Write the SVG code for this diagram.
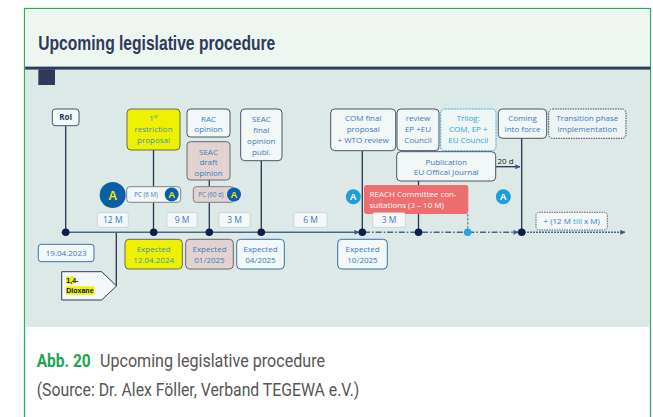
<svg xmlns="http://www.w3.org/2000/svg" width="653" height="417" viewBox="0 0 653 417">
  <defs>
    <marker id="arr" viewBox="0 0 6 6" refX="5.5" refY="3" markerWidth="5" markerHeight="5" orient="auto" markerUnits="userSpaceOnUse">
      <path d="M0,0 L6,3 L0,6 z" fill="#3b5880"/>
    </marker>
    <style>
      .lbl { font-family: "Open Sans", "Liberation Sans", sans-serif; font-size: 8px; fill: #3a7cc0; text-anchor: middle; }
      .durt { font-family: "Open Sans", "Liberation Sans", sans-serif; font-size: 8.5px; fill: #3a7cc0; text-anchor: middle; }
      .sm { font-family: "Open Sans", "Liberation Sans", sans-serif; font-size: 6.2px; fill: #3a7cc0; text-anchor: middle; }
      .box { fill: #f2f7f7; stroke: #4b5465; stroke-width: 1; }
      .dur { fill: #f4f8f8; stroke: #c7d0d0; stroke-width: 0.8; }
      .yel { fill: #edf100; stroke: #6a6a55; stroke-width: 1; }
      .pink { fill: #e3d3d0; stroke: #6b6670; stroke-width: 1; }
      .bluebox { fill: #f2f7f7; stroke: #3b70a8; stroke-width: 1; }
      .conn { stroke: #2a3450; stroke-width: 1.3; fill: none; }
      .dot { fill: #0b1f4d; }
      .aDark { fill: #0b5ea8; }
      .aLight { fill: #1e9edd; }
      .aTxtY { font-family: "Liberation Sans", sans-serif; font-weight: bold; fill: #f2e600; text-anchor: middle; }
      .aTxtW { font-family: "Liberation Sans", sans-serif; font-weight: bold; fill: #ffffff; text-anchor: middle; }
    </style>
  </defs>

  <!-- frame -->
  <rect x="24.5" y="8.5" width="626" height="420" fill="#ffffff" stroke="#22b35a" stroke-width="1.3"/>
  <rect x="25.2" y="9.2" width="624.6" height="57.5" fill="#eef6f2"/>
  <rect x="25.2" y="69.5" width="624.6" height="257.5" fill="#dce9e6"/>
  <rect x="25.2" y="66.6" width="625.3" height="3" fill="#2e3a5b"/>
  <rect x="38.3" y="69.3" width="16.7" height="15.7" fill="#2e3a5b"/>
  <text x="38.3" y="50" font-family="Liberation Sans, Arial, sans-serif" font-weight="bold" font-size="20.5" fill="#2e3a5b" textLength="237" lengthAdjust="spacingAndGlyphs">Upcoming legislative procedure</text>

  <!-- connectors -->
  <g id="connectors">
    <line class="conn" x1="65.7" y1="125.7" x2="65.7" y2="232.3"/>
    <line class="conn" x1="153.5" y1="150" x2="153.5" y2="232.3"/>
    <line class="conn" x1="209.3" y1="180" x2="209.3" y2="232.3"/>
    <line class="conn" x1="261.3" y1="160.7" x2="261.3" y2="232.3"/>
    <line class="conn" x1="362.3" y1="150.7" x2="362.3" y2="232.3"/>
    <line class="conn" x1="418.5" y1="150.7" x2="418.5" y2="232.3"/>
    <line class="conn" x1="521.7" y1="138.3" x2="521.7" y2="232.3"/>
    <line class="conn" x1="116.3" y1="232.3" x2="116.3" y2="286"/>
    <line x1="467.7" y1="214" x2="467.7" y2="232" stroke="#7a8a99" stroke-width="1.3" stroke-dasharray="2.5 1.5"/>
    <line class="conn" x1="495.7" y1="166.7" x2="520" y2="166.7" marker-end="url(#arr)"/>
    <!-- timeline -->
    <line x1="61.7" y1="232.3" x2="359" y2="232.3" stroke="#4a6688" stroke-width="1.6" marker-end="url(#arr)"/>
    <line x1="364" y1="232.3" x2="518" y2="232.3" stroke="#4a6688" stroke-width="1.6" stroke-dasharray="6 2 1.6 2" marker-end="url(#arr)"/>
    <line x1="524" y1="232.3" x2="625" y2="232.3" stroke="#4a6688" stroke-width="1.6" stroke-dasharray="2 1" marker-end="url(#arr)"/>
    <circle class="dot" cx="65.7" cy="232.3" r="3.8"/>
    <circle class="dot" cx="153.7" cy="232.3" r="3.8"/>
    <circle class="dot" cx="209.3" cy="232.3" r="3.8"/>
    <circle class="dot" cx="261.3" cy="232.3" r="3.8"/>
    <circle class="dot" cx="362.3" cy="232.3" r="3.8"/>
    <circle class="dot" cx="418.5" cy="232.3" r="3.8"/>
    <circle cx="467.7" cy="232.3" r="3.8" fill="#22a8e0"/>
    <circle class="dot" cx="521.7" cy="232.3" r="3.8"/>
  </g>

  <!-- top row -->
  <g id="roi">
    <rect class="box" x="52.3" y="109" width="26.7" height="16.7" rx="3"/>
    <text class="lbl" x="65.7" y="120.2" font-weight="bold" style="fill:#2a3a5c">RoI</text>
  </g>
  <g id="restriction-proposal">
    <rect class="yel" x="127" y="109" width="53" height="41" rx="4"/>
    <text class="lbl" x="153.5" y="120.8" style="fill:#3a95b8">1<tspan font-size="4.8" dy="-2.7">st</tspan></text>
    <text class="lbl" x="153.5" y="132" style="fill:#3a95b8">restriction</text>
    <text class="lbl" x="153.5" y="143" style="fill:#3a95b8">proposal</text>
  </g>
  <g id="rac-opinion">
    <rect class="box" x="187" y="109" width="43" height="28" rx="3.5"/>
    <text class="lbl" x="208.5" y="121.7">RAC</text>
    <text class="lbl" x="208.5" y="132">opinion</text>
  </g>
  <g id="seac-draft">
    <rect class="pink" x="187" y="141.7" width="43" height="38.3" rx="3.5"/>
    <text class="lbl" x="208.5" y="154.5">SEAC</text>
    <text class="lbl" x="208.5" y="165.2">draft</text>
    <text class="lbl" x="208.5" y="176.2">opinion</text>
  </g>
  <g id="seac-final">
    <rect class="box" x="240.7" y="109" width="41.3" height="51.7" rx="4"/>
    <text class="lbl" x="261.3" y="121.8">SEAC</text>
    <text class="lbl" x="261.3" y="132.8">final</text>
    <text class="lbl" x="261.3" y="143.5">opinion</text>
    <text class="lbl" x="261.3" y="154.5">publ.</text>
  </g>
  <g id="com-final">
    <rect class="box" x="330.7" y="109" width="65" height="41.7" rx="4"/>
    <text class="lbl" x="363.2" y="121.1">COM final</text>
    <text class="lbl" x="363.2" y="132.1">proposal</text>
    <text class="lbl" x="363.2" y="143.1">+ WTO review</text>
  </g>
  <g id="review-ep">
    <rect class="box" x="397" y="109" width="42" height="41.7" rx="4"/>
    <text class="lbl" x="418" y="121.1">review</text>
    <text class="lbl" x="418" y="132.1">EP +EU</text>
    <text class="lbl" x="418" y="143.1">Council</text>
  </g>
  <g id="trilog">
    <rect x="440.7" y="109" width="55.3" height="41.7" rx="4" fill="#eef6f6" stroke="#3aa8dc" stroke-width="1" stroke-dasharray="2 1"/>
    <text class="lbl" x="468.3" y="121.1" style="fill:#2aa6da">Trilog:</text>
    <text class="lbl" x="468.3" y="132.1" style="fill:#2aa6da">COM, EP +</text>
    <text class="lbl" x="468.3" y="143.1" style="fill:#2aa6da">EU Council</text>
  </g>
  <g id="publication">
    <rect class="box" x="396.7" y="151.7" width="99" height="29.3" rx="4"/>
    <text class="lbl" x="446.2" y="164.5">Publication</text>
    <text class="lbl" x="446.2" y="174.6">EU Offical Journal</text>
  </g>
  <text x="497.5" y="164.2" font-family="Open Sans, Liberation Sans, sans-serif" font-size="8" fill="#222">20 d</text>
  <g id="coming-into-force">
    <rect class="box" x="498.3" y="109" width="48.4" height="29.3" rx="4"/>
    <text class="lbl" x="522.5" y="121.2">Coming</text>
    <text class="lbl" x="522.5" y="131.8">into force</text>
  </g>
  <g id="transition">
    <rect x="548.7" y="109" width="77.3" height="29.3" rx="4" fill="#eef4f4" stroke="#3d4658" stroke-width="1" stroke-dasharray="1.5 1"/>
    <text class="lbl" x="587.3" y="121.2">Transition phase</text>
    <text class="lbl" x="587.3" y="131.8">implementation</text>
  </g>

  <!-- public consultation row -->
  <g id="pc-6m">
    <rect class="box" x="126.7" y="186.7" width="54" height="15.6" rx="3" style="stroke:#7a8290"/>
    <text class="sm" x="146" y="196.7">PC (6 M)</text>
    <circle class="aDark" cx="171.7" cy="194.5" r="7"/>
    <text class="aTxtY" x="171.7" y="198" font-size="9.5">A</text>
  </g>
  <g id="pc-60d">
    <rect class="pink" x="193.3" y="186.7" width="40.7" height="15.6" rx="3" style="stroke:#7a7f8a"/>
    <text class="sm" x="211" y="196.7">PC (60 d)</text>
    <circle class="aDark" cx="234" cy="194.5" r="7"/>
    <text class="aTxtY" x="234" y="198" font-size="9.5">A</text>
  </g>
  <g id="a-big">
    <circle class="aDark" cx="112.7" cy="195" r="13"/>
    <text class="aTxtY" x="112.7" y="199.5" font-size="12.5">A</text>
  </g>
  <g id="a-com">
    <circle class="aLight" cx="353.3" cy="196.7" r="7.5"/>
    <text class="aTxtW" x="353.3" y="200.3" font-size="9.5">A</text>
  </g>
  <g id="a-force">
    <circle class="aLight" cx="503.3" cy="196.7" r="7.5"/>
    <text class="aTxtW" x="503.3" y="200.3" font-size="9.5">A</text>
  </g>
  <g id="reach-committee">
    <rect x="364" y="185" width="104.3" height="29" rx="3" fill="#ee6e70"/>
    <text x="369.5" y="197.1" font-family="Open Sans, Liberation Sans, sans-serif" font-size="8" fill="#ffffff">REACH Committee con-</text>
    <text x="369.5" y="208.1" font-family="Open Sans, Liberation Sans, sans-serif" font-size="8" fill="#ffffff">sultations (3 – 10 M)</text>
  </g>

  <!-- durations -->
  <g id="dur-12m"><rect class="dur" x="97.3" y="212.7" width="31" height="14.6" rx="2"/><text class="durt" x="112.8" y="223">12 M</text></g>
  <g id="dur-9m"><rect class="dur" x="167" y="212.7" width="30" height="14.6" rx="2"/><text class="durt" x="182" y="223">9 M</text></g>
  <g id="dur-3m-a"><rect class="dur" x="219" y="212.7" width="31" height="14.6" rx="2"/><text class="durt" x="234.5" y="223">3 M</text></g>
  <g id="dur-6m"><rect class="dur" x="294" y="212.7" width="33" height="14.6" rx="2"/><text class="durt" x="310.5" y="223">6 M</text></g>
  <g id="dur-3m-b"><rect class="dur" x="372.7" y="212.7" width="32.6" height="14.6" rx="2"/><text class="durt" x="389" y="223">3 M</text></g>
  <g id="dur-transition">
    <rect x="536" y="212.3" width="71.3" height="17.7" rx="3" fill="#f2f7f7" stroke="#4b5568" stroke-width="0.9" stroke-dasharray="1.5 1"/>
    <text class="lbl" x="571.7" y="224">+ (12 M <tspan style="fill:#2aa6da">till</tspan> x M)</text>
  </g>

  <!-- dates -->
  <g id="date-start">
    <rect class="bluebox" x="38.3" y="244.3" width="55.7" height="17.4" rx="3"/>
    <text class="lbl" x="66.2" y="255.8">19.04.2023</text>
  </g>
  <g id="exp-2024">
    <rect class="yel" x="125" y="239.3" width="57.3" height="29.7" rx="4"/>
    <text class="lbl" x="153.7" y="251.8" style="fill:#3a95b8">Expected</text>
    <text class="lbl" x="153.7" y="262.8" style="fill:#3a95b8">12.04.2024</text>
  </g>
  <g id="exp-01-2025">
    <rect class="pink" x="185.7" y="239.3" width="47.6" height="29.7" rx="4"/>
    <text class="lbl" x="209.5" y="251.8">Expected</text>
    <text class="lbl" x="209.5" y="262.8">01/2025</text>
  </g>
  <g id="exp-04-2025">
    <rect class="bluebox" x="236.7" y="239.3" width="47.6" height="29.7" rx="4"/>
    <text class="lbl" x="260.5" y="251.8">Expected</text>
    <text class="lbl" x="260.5" y="262.8">04/2025</text>
  </g>
  <g id="exp-10-2025">
    <rect class="bluebox" x="337.7" y="239.3" width="49.6" height="29.7" rx="4"/>
    <text class="lbl" x="362.5" y="251.8">Expected</text>
    <text class="lbl" x="362.5" y="262.8">10/2025</text>
  </g>
  <g id="dioxane">
    <path d="M61.7,271.7 H101.7 L116.5,286 L101.7,300 H61.7 Z" fill="#f4f8f8" stroke="#2e3a5b" stroke-width="1"/>
    <rect x="66" y="276.5" width="8" height="8" fill="#eef200"/>
    <rect x="66" y="286.3" width="28.5" height="8.5" fill="#eef200"/>
    <text x="66.3" y="283" font-family="Liberation Sans, sans-serif" font-weight="bold" font-size="7" fill="#111">1,4-</text>
    <text x="66.3" y="293" font-family="Liberation Sans, sans-serif" font-weight="bold" font-size="7" fill="#111">Dioxane</text>
  </g>

  <!-- caption -->
  <text x="36.7" y="366.5" font-family="Roboto, Noto Sans, sans-serif" font-weight="bold" font-size="18.5" fill="#1aa653" textLength="54" lengthAdjust="spacingAndGlyphs">Abb. 20</text>
  <text x="100" y="366.5" font-family="Roboto, Noto Sans, sans-serif" font-size="18.5" fill="#555555" textLength="225" lengthAdjust="spacingAndGlyphs">Upcoming legislative procedure</text>
  <text x="36.7" y="395.5" font-family="Roboto, Noto Sans, sans-serif" font-size="18.5" fill="#555555" textLength="322.6" lengthAdjust="spacingAndGlyphs">(Source: Dr. Alex Föller, Verband TEGEWA e.V.)</text>
</svg>
